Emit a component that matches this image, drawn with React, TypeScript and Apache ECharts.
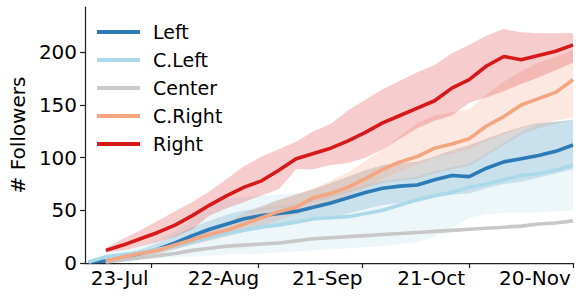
import React, { useEffect, useRef } from "react";
import * as echarts from "echarts";

// ---- data (days relative to 23-Jul) ----
const days = [-9, -4, 1, 6, 11, 16, 21, 26, 31, 36, 41, 46, 51, 56, 61, 66, 71, 76, 81, 86, 91, 96, 101, 106, 111, 116, 121, 126, 131];

const leftMean = [1, 2, 5, 9, 13, 19, 26, 32, 37, 42, 45, 47, 49, 53, 57, 62, 67, 71, 73, 74, 79, 83, 82, 90, 96, 99, 102, 106, 112];
const leftUpper = [2, 4, 8, 13, 19, 26, 34, 40, 46, 50, 52, 54, 56, 60, 64, 69, 74, 78, 80, 82, 87, 91, 94, 104, 114, 124, 132, 134, 136];
const leftLower = [0, 1, 3, 6, 9, 13, 18, 22, 26, 30, 33, 35, 37, 40, 43, 47, 51, 55, 57, 58, 62, 65, 66, 71, 75, 77, 81, 85, 89];

const cLeftMean = [1, 6, 8, 10, 13, 16, 20, 24, 28, 31, 34, 36, 39, 42, 43, 44, 47, 50, 55, 60, 64, 67, 72, 75, 79, 83, 85, 88, 93];
const cLeftUpper = [2, 8, 12, 16, 22, 30, 42, 55, 61, 63, 64, 65, 66, 66, 68, 70, 74, 78, 80, 82, 87, 91, 94, 104, 114, 124, 132, 134, 137];
const cLeftLower = [0, 1, 2, 3, 4, 5, 6, 7, 8, 8, 9, 10, 11, 12, 13, 14, 15, 16, 18, 20, 25, 33, 43, 46, 48, 48, 48, 49, 50];

const centerMean = [null, 1, 3, 5, 7, 9, 12, 14, 16, 17, 18, 19, 21, 23, 24, 25, 26, 27, 28, 29, 30, 31, 32, 33, 34, 35, 37, 38, 40];
const centerUpper = [null, 2, 5, 9, 14, 19, 25, 31, 37, 48, 54, 60, 65, 70, 76, 82, 88, 93, 95, 96, 101, 107, 112, 118, 124, 129, 133, 134, 135];
const centerLower = [null, 0, 3, 7, 12, 17, 23, 29, 35, 46, 50, 52, 54, 58, 62, 67, 72, 76, 78, 80, 85, 89, 92, 102, 112, 122, 128, 132, 135];

const cRightMean = [null, 2, 6, 9, 12, 17, 22, 27, 31, 37, 43, 49, 53, 62, 66, 72, 80, 89, 96, 101, 109, 113, 118, 130, 139, 150, 156, 162, 174];
const cRightUpper = [null, 3, 8, 11, 15, 20, 26, 32, 38, 45, 52, 59, 65, 71, 78, 86, 97, 108, 120, 133, 140, 143, 146, 160, 172, 182, 190, 196, 202];
const cRightLower = [null, 1, 4, 7, 9, 13, 17, 21, 25, 30, 35, 41, 46, 53, 58, 64, 71, 80, 87, 93, 100, 104, 108, 116, 122, 128, 132, 135, 138];

const rightMean = [null, 12, 17, 23, 29, 36, 45, 55, 64, 72, 78, 88, 99, 104, 109, 116, 124, 133, 140, 147, 154, 166, 174, 187, 196, 193, 197, 201, 207];
const rightUpper = [null, 14, 23, 31, 40, 49, 58, 68, 80, 92, 101, 108, 115, 125, 132, 145, 155, 165, 173, 181, 188, 199, 207, 216, 222, 219, 218, 218, 218];
const rightLower = [null, 10, 12, 16, 20, 25, 32, 45, 52, 58, 64, 70, 89, 89, 93, 95, 100, 108, 118, 128, 135, 140, 152, 157, 163, 170, 176, 183, 190];

const seriesNames = ["Left", "C.Left", "Center", "C.Right", "Right"];

const xLabelDays = [0, 30, 60, 90, 120];
const xLabels = ["23-Jul", "22-Aug", "21-Sep", "21-Oct", "20-Nov"];
const xTickDays = [9, 40, 70, 101, 131];
const yTicks = [0, 50, 100, 150, 200];

// ---- styles ----
const colors = ["#2c7bb6", "#abd9e9", "#c8c8c8", "#f4a582", "#d7191c"];
const bandOpacity = [0.22, 0.22, 0.7, 0.25, 0.22];
const FONT = "DejaVu Sans";

type Arr = (number | null)[];

function pts(vals: Arr): [number, number][] {
  const out: [number, number][] = [];
  vals.forEach((v, i) => {
    if (v != null) out.push([days[i], v]);
  });
  return out;
}

function bandSeries(key: string, lower: Arr, upper: Arr, color: string, opacity: number) {
  const data: [number, number, number][] = [];
  days.forEach((d, i) => {
    const l = lower[i];
    const u = upper[i];
    if (l != null && u != null) data.push([d, l, u]);
  });
  return {
    type: "custom",
    name: key + "-band",
    silent: true,
    z: 1,
    clip: true,
    encode: { x: 0, y: [1, 2] },
    data,
    renderItem: (params: any, api: any) => {
      if (params.dataIndex !== 0) return null;
      const top = data.map((p) => api.coord([p[0], p[2]]));
      const bottom = data.map((p) => api.coord([p[0], p[1]])).reverse();
      return {
        type: "polygon",
        shape: { points: top.concat(bottom) },
        style: { fill: color, opacity, stroke: "none" },
      };
    },
  };
}

export default function App() {
  const ref = useRef<HTMLDivElement>(null);

  useEffect(() => {
    document.body.style.margin = "0";
    if (!ref.current) return;
    const chart = echarts.init(ref.current, undefined, { renderer: "svg" });

    const means = [leftMean, cLeftMean, centerMean, cRightMean, rightMean];
    const uppers = [leftUpper, cLeftUpper, centerUpper, cRightUpper, rightUpper];
    const lowers = [leftLower, cLeftLower, centerLower, cRightLower, rightLower];

    const bands = seriesNames.map((n, i) => bandSeries(n, lowers[i], uppers[i], colors[i], bandOpacity[i]));
    const lines = seriesNames.map((n, i) => ({
      type: "line",
      name: n,
      data: pts(means[i]),
      symbol: "none",
      lineStyle: { width: 3.6, color: colors[i] },
      itemStyle: { color: colors[i] },
      z: 3,
    }));

    const axisColor = "#222";
    chart.setOption({
      animation: false,
      backgroundColor: "#fff",
      grid: { left: 82, right: 9, top: 7, bottom: 34, containLabel: false },
      legend: {
        data: seriesNames.map((n) => ({ name: n, icon: "rect" })),
        orient: "vertical",
        left: 92,
        top: 17,
        itemWidth: 43,
        itemHeight: 4,
        itemGap: 8,
        selectedMode: false,
        textStyle: { fontSize: 19, fontFamily: FONT, color: "#000", lineHeight: 20, padding: [0, 0, 0, 8] },
      },
      xAxis: {
        type: "value",
        min: -10,
        max: 131,
        axisLine: { show: true, onZero: false, lineStyle: { color: axisColor, width: 1.25 } },
        axisTick: { show: true, customValues: xTickDays, length: 5, lineStyle: { color: axisColor, width: 1.25 } },
        axisLabel: {
          customValues: xLabelDays,
          formatter: (v: number) => {
            const idx = xLabelDays.indexOf(Math.round(v));
            return idx >= 0 ? xLabels[idx] : "";
          },
          fontSize: 20,
          fontFamily: FONT,
          color: "#000",
          margin: 5,
        },
        splitLine: { show: false },
      },
      yAxis: {
        type: "value",
        min: 0,
        max: 243,
        name: "# Followers",
        nameLocation: "middle",
        nameGap: 54,
        nameRotate: 90,
        nameTextStyle: { fontSize: 20, fontFamily: FONT, color: "#000" },
        axisLine: { show: true, onZero: false, lineStyle: { color: axisColor, width: 1.25 } },
        axisTick: { show: true, customValues: yTicks, length: 5, lineStyle: { color: axisColor, width: 1.25 } },
        axisLabel: { customValues: yTicks, fontSize: 20, fontFamily: FONT, color: "#000", margin: 8 },
        splitLine: { show: false },
      },
      series: [...bands, ...lines],
    });

    return () => chart.dispose();
  }, []);

  return <div ref={ref} style={{ width: 582, height: 297 }} />;
}
